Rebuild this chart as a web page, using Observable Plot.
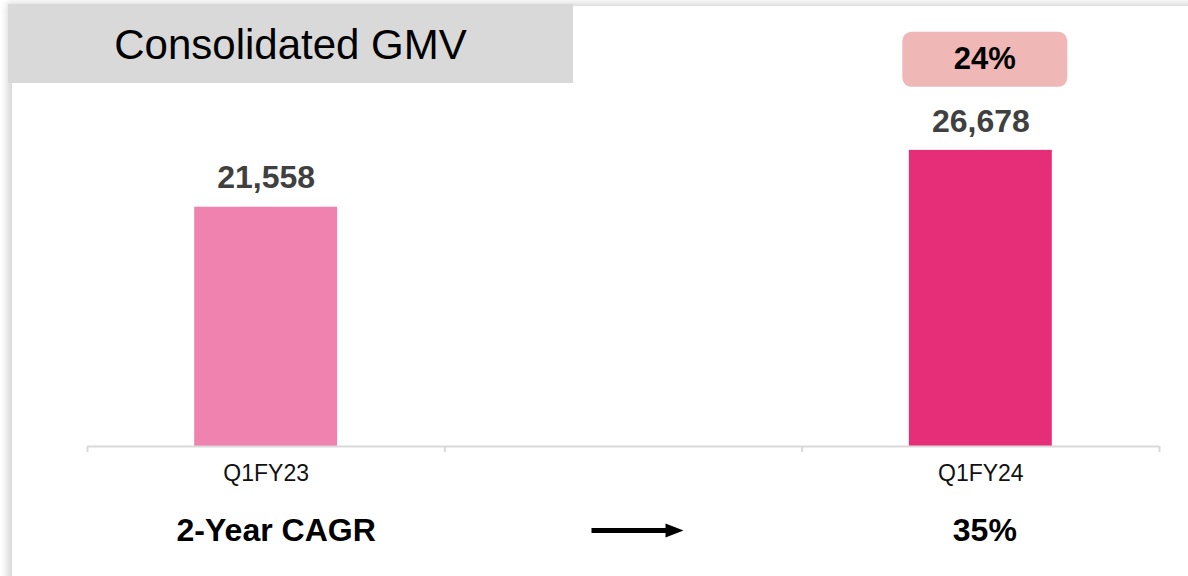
<!DOCTYPE html>
<html>
<head>
<meta charset="utf-8">
<script src="https://cdn.jsdelivr.net/npm/d3@7"></script>
<script src="https://cdn.jsdelivr.net/npm/@observablehq/plot@0.6"></script>
<style>
  html, body { margin: 0; padding: 0; }
  body {
    width: 1188px; height: 576px; overflow: hidden; position: relative;
    background: #ffffff; font-family: "Liberation Sans", Arial, sans-serif;
  }
  #panel {
    position: absolute; left: 12px; top: 6px; width: 1200px; height: 600px;
    background: #ffffff; box-shadow: -5px -3px 7px rgba(0,0,0,0.16);
  }
  #title {
    position: absolute; left: 8px; top: 4px; width: 565px; height: 79px;
    background: #d9d9d9; color: #000; font-size: 42px;
    display: flex; align-items: center; justify-content: center;
    padding-top: 2px; box-sizing: border-box;
  }
  #chart { position: absolute; left: 0; top: 0; }
</style>
</head>
<body>
<div id="panel"></div>
<div id="title">Consolidated GMV</div>
<div id="chart"></div>
<script>
// Slots along the category axis; the middle one is an empty spacer column.
const slots = ["Q1FY23", "", "Q1FY24"];
const periods = ["Q1FY23", "Q1FY24"];
const gmv = [21558, 26678];
const barColors = ["#f082b0", "#e62d78"];
const yoyGrowth = ["24%"];          // growth badge over the latest period
const cagrLabel = "2-Year CAGR";
const cagrValue = "35%";

const bars = periods.map((p, i) => ({period: p, slot: slots.indexOf(p), value: gmv[i], color: barColors[i]}));
const latest = bars[bars.length - 1];
const boundaries = d3.range(slots.length + 1).map(i => i - 0.5);
const fmt = d3.format(",");

// Rounded badge drawn behind a text label
function badge(w, h, r, fill) {
  return (index, scales, values, dims, context, next) => {
    const g = next(index, scales, values, dims, context);
    for (const i of index) {
      const rect = document.createElementNS("http://www.w3.org/2000/svg", "rect");
      rect.setAttribute("x", values.x[i] - w / 2);
      rect.setAttribute("y", values.y[i] - h / 2);
      rect.setAttribute("width", w);
      rect.setAttribute("height", h);
      rect.setAttribute("rx", r);
      rect.setAttribute("fill", fill);
      g.insertBefore(rect, g.firstChild);
    }
    return g;
  };
}

// Horizontal block arrow centred on the spacer slot
function blockArrow(len, shaft, head, headLen, shift) {
  return (index, scales, values, dims, context, next) => {
    const g = next(index, scales, values, dims, context);
    const cy0 = dims.height - dims.marginBottom;
    for (const i of index) {
      const cx = values.x[i] + shift, cy = values.y ? values.y[i] : cy0;
      const x0 = cx - len / 2, x1 = cx + len / 2, xh = x1 - headLen;
      const path = document.createElementNS("http://www.w3.org/2000/svg", "path");
      path.setAttribute("d",
        `M${x0},${cy - shaft / 2}H${xh}V${cy - head / 2}L${x1},${cy}L${xh},${cy + head / 2}V${cy + shaft / 2}H${x0}Z`);
      path.setAttribute("fill", "#000");
      path.setAttribute("fill-opacity", 1);
      g.appendChild(path);
    }
    return g;
  };
}

const chart = Plot.plot({
  width: 1188,
  height: 576,
  marginLeft: 87,
  marginRight: 29,
  marginTop: 113,
  marginBottom: 130,
  style: {background: "transparent", fontFamily: "'Liberation Sans', Arial, sans-serif", overflow: "visible"},
  x: {domain: [-0.5, slots.length - 0.5], axis: null},
  y: {domain: [0, 30000], axis: null},
  marks: [
    Plot.rectY(bars, {x1: d => d.slot - 0.2, x2: d => d.slot + 0.2, y: "value", fill: "color"}),
    Plot.ruleY([0], {stroke: "#d9d9d9", strokeWidth: 2}),
    Plot.axisX({ticks: boundaries, tickFormat: () => "", tickSize: 6, label: null,
      stroke: "#d9d9d9", strokeWidth: 2, strokeOpacity: 1}),
    Plot.text(bars, {x: "slot", y: "value", text: d => fmt(d.value), dy: -29,
      fontSize: 32, fontWeight: "bold", fill: "#404040"}),
    Plot.text([latest], {x: "slot", y: "value", text: () => yoyGrowth[0], dy: -91, dx: 4,
      fontSize: 31, fontWeight: "bold", fill: "#000", render: badge(165, 55, 9, "#efb8b6")}),
    Plot.text(bars, {x: "slot", frameAnchor: "bottom", text: "period", dy: 34,
      fontSize: 23, fill: "#111"}),
    Plot.text([{slot: 0, t: cagrLabel}], {x: "slot", frameAnchor: "bottom", text: "t",
      dy: 94, dx: 10, fontSize: 32, fontWeight: "bold", fill: "#000"}),
    Plot.text([{slot: 2, t: cagrValue}], {x: "slot", frameAnchor: "bottom", text: "t",
      dy: 94, dx: 4, fontSize: 32, fontWeight: "bold", fill: "#000"}),
    Plot.text([{slot: 1, t: "→"}], {x: "slot", frameAnchor: "bottom", text: "t", dy: 84,
      fill: "none", render: blockArrow(92, 5, 14, 18, 14)})
  ]
});
document.getElementById("chart").appendChild(chart);
</script>
</body>
</html>
